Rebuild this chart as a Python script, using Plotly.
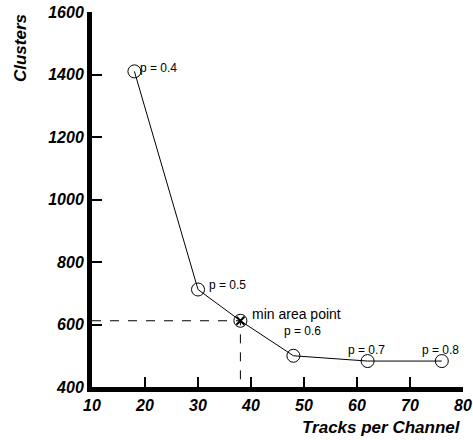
import plotly.graph_objects as go

tracks = [18, 30, 38, 48, 62, 76]
clusters = [1410, 712, 612, 500, 483, 483]
p_labels = ["p = 0.4", "p = 0.5", "", "p = 0.6", "p = 0.7", "p = 0.8"]
min_x = 38
min_y = 612
x_ticks = [10, 20, 30, 40, 50, 60, 70, 80]
y_ticks = [400, 600, 800, 1000, 1200, 1400, 1600]

label_shift = [(4, 3, "left"), (9, 5, "left"), None, (9, 25, "center"), (-1, 11, "center"), (-1, 11, "center")]

fig = go.Figure()
fig.add_trace(go.Scatter(x=[x_ticks[0], min_x, min_x], y=[min_y, min_y, y_ticks[0]], mode="lines",
                         line=dict(color="black", width=1, dash="dash"), hoverinfo="skip"))
fig.add_trace(go.Scatter(x=tracks, y=clusters, mode="lines+markers",
                         line=dict(color="black", width=1),
                         marker=dict(symbol="circle-open", size=13, color="black", line=dict(width=1))))
fig.add_trace(go.Scatter(x=[min_x], y=[min_y], mode="markers",
                         marker=dict(symbol="x-thin", size=8, line=dict(width=2, color="black"))))

font = "Liberation Sans, Arial, sans-serif"
for x, y, t, s in zip(tracks, clusters, p_labels, label_shift):
    if not t:
        continue
    fig.add_annotation(x=x, y=y, text=t, showarrow=False, xanchor=s[2], yanchor="middle",
                       xshift=s[0], yshift=s[1], font=dict(family=font, size=12, color="black"))
fig.add_annotation(x=min_x, y=min_y, text="min area point", showarrow=False, xanchor="left",
                   yanchor="middle", xshift=10, yshift=7, font=dict(family=font, size=14, color="black"))

fig.add_annotation(xref="paper", yref="paper", x=1, y=-0.109, text="Tracks per Channel", showarrow=False,
                   xanchor="right", yanchor="middle",
                   font=dict(family=font, size=17, color="black", weight="bold", style="italic"))
fig.add_annotation(xref="paper", yref="paper", x=-0.194, y=1.0, text="Clusters", showarrow=False,
                   xanchor="center", yanchor="top", textangle=-90,
                   font=dict(family=font, size=17, color="black", weight="bold", style="italic"))

axfont = dict(family=font, size=16, color="black", weight="bold", style="italic")
fig.update_xaxes(range=[10, 80], tickvals=x_ticks, showline=True, linewidth=5, linecolor="black",
                 ticks="inside", ticklen=10, tickwidth=2, tickcolor="black", showgrid=False,
                 zeroline=False, tickfont=axfont, automargin=False)
fig.update_yaxes(range=[400, 1600], tickvals=y_ticks, showline=True, linewidth=5, linecolor="black",
                 ticks="inside", ticklen=10, tickwidth=2, tickcolor="black", showgrid=False,
                 zeroline=False, tickfont=axfont, automargin=False)
fig.update_layout(width=473, height=440, margin=dict(l=92, r=10, t=12, b=53, autoexpand=False),
                  plot_bgcolor="white", paper_bgcolor="white", showlegend=False)
fig.write_html("out.html", config={"displayModeBar": False},
               post_script="document.body.style.margin='0';document.body.style.overflow='hidden';")
